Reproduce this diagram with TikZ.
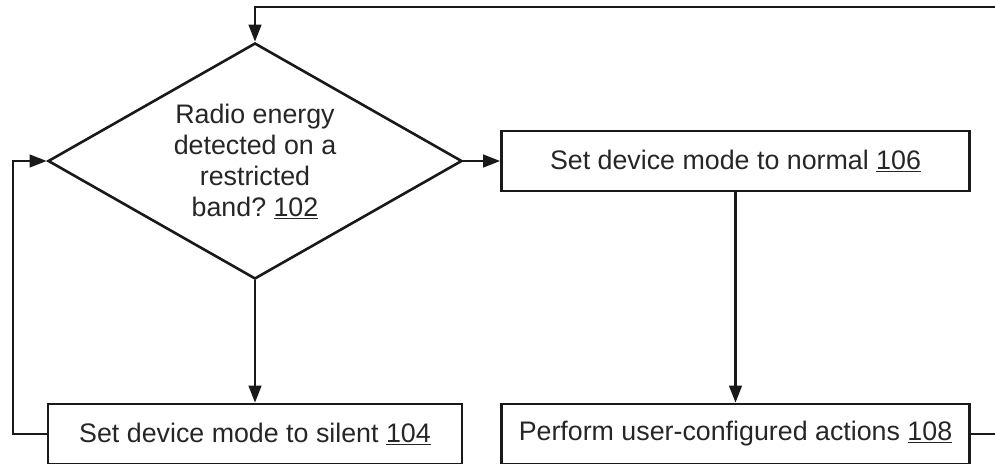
\documentclass[tikz,border=0pt]{standalone}
\usepackage{fontspec}
\setmainfont{Liberation Sans}
\usetikzlibrary{shapes.geometric,arrows.meta}

\tikzset{
  flowline/.style={line width=2.6pt, draw=black!90},
  arr/.style={flowline, -{Triangle[length=17pt,width=12.5pt]}},
  stepbox/.style={flowline, rectangle, minimum height=60pt, inner sep=0pt,
    font=\fontsize{26.8}{31}\selectfont, text=black!85},
  decision/.style={flowline, diamond, shape aspect=1.75,
    minimum width=414pt, minimum height=236pt,
    inner sep=0pt, align=center, font=\fontsize{26.8}{31}\selectfont, text=black!85}
}

\begin{document}
\frenchspacing
\begin{tikzpicture}[x=1pt, y=-1pt]
  \useasboundingbox (0,0) rectangle (995,463);
  \clip (0,0) rectangle (995,463);

  % decision and process steps
  \node[decision] (d) at (255,161)
    {Radio energy\\detected on a\\restricted\\band? \underline{102}};
  \node[stepbox, minimum width=414pt] (b104) at (255,434)
    {Set device mode to silent \underline{104}};
  \node[stepbox, minimum width=468pt] (b106) at (735.5,161)
    {Set device mode to normal \underline{106}};
  \node[stepbox, minimum width=468pt] (b108) at (735.5,434)
    {Perform user-configured actions \underline{108}};

  % turning points of the two loops
  \coordinate (loopR) at (1010,7);
  \coordinate (loopL) at (13,161);

  % connectors
  \draw[arr] (d.east) -- (b106.west);
  \draw[arr] (d.south) -- (b104.north);
  \draw[arr] (b106.south) -- (b108.north);
  \draw[arr] (b104.west) -| (loopL) -- (d.west);
  \draw[arr] (b108.east) -| (loopR) -| (d.north);
\end{tikzpicture}
\end{document}
